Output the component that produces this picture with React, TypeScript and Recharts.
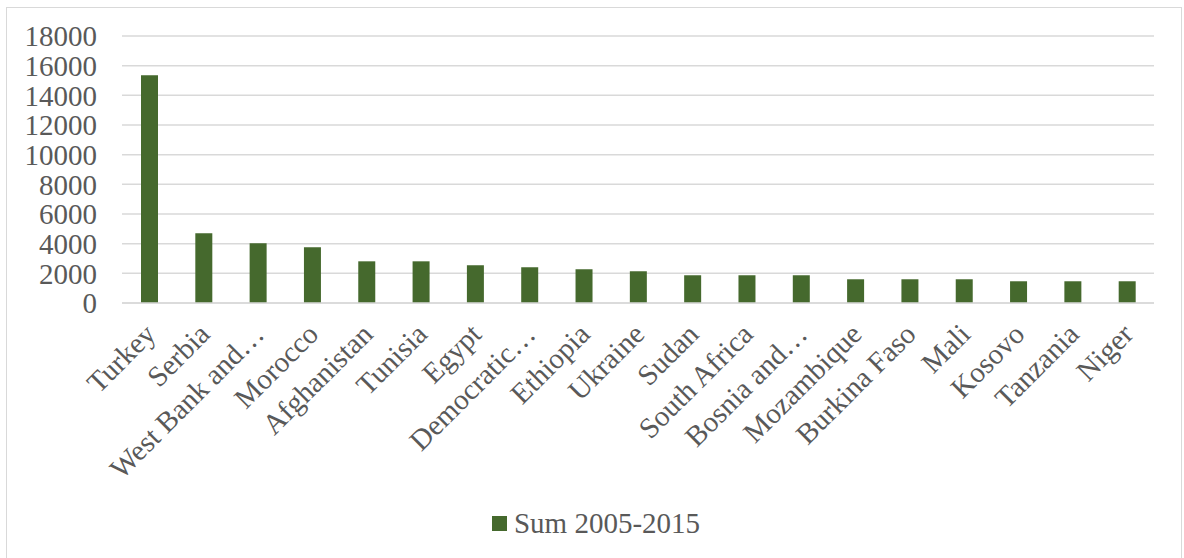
import React from "react";
import { BarChart, Bar, XAxis, YAxis, CartesianGrid, Legend } from "recharts";

const countries = [
  "Turkey",
  "Serbia",
  "West Bank and…",
  "Morocco",
  "Afghanistan",
  "Tunisia",
  "Egypt",
  "Democratic…",
  "Ethiopia",
  "Ukraine",
  "Sudan",
  "South Africa",
  "Bosnia and…",
  "Mozambique",
  "Burkina Faso",
  "Mali",
  "Kosovo",
  "Tanzania",
  "Niger",
];

const sum20052015 = [
  15350, 4700, 4030, 3760, 2810, 2810, 2545, 2410, 2275, 2140, 1870, 1870,
  1870, 1600, 1600, 1600, 1465, 1465, 1465,
];

const yTicks = [0, 2000, 4000, 6000, 8000, 10000, 12000, 14000, 16000, 18000];

const data = countries.map((name, i) => ({ name, value: sum20052015[i] }));

const FONT = "Liberation Serif, DejaVu Serif, serif";
const TEXT = "#595959";
const GREEN = "#45692d";
const SIZE = 29;

function CountryTick(props: any) {
  const { x, y, payload } = props;
  const ax = x + 8;
  const ay = y + 31;
  return (
    <text
      x={ax}
      y={ay}
      transform={`rotate(-45 ${ax} ${ay})`}
      textAnchor="end"
      fill={TEXT}
      style={{ fontSize: SIZE, fontFamily: FONT }}
    >
      {payload.value}
    </text>
  );
}

function LegendContent() {
  return (
    <div
      style={{
        display: "flex",
        alignItems: "center",
        justifyContent: "center",
        fontFamily: FONT,
        fontSize: SIZE,
        color: TEXT,
        marginLeft: 16,
      }}
    >
      <span
        style={{
          display: "inline-block",
          width: 15,
          height: 15,
          background: GREEN,
          marginRight: 7,
        }}
      />
      <span>Sum 2005-2015</span>
    </div>
  );
}

export default function App() {
  return (
    <div
      style={{
        position: "absolute",
        left: 0,
        top: 0,
        width: 1184,
        height: 558,
        background: "#fff",
        overflow: "hidden",
        fontFamily: FONT,
      }}
    >
      <div
        style={{
          position: "absolute",
          left: 6,
          top: 7,
          width: 1176,
          height: 600,
          border: "1.5px solid #d9d9d9",
          boxSizing: "border-box",
        }}
      />
      <div style={{ position: "absolute", left: 0, top: 0 }}>
        <BarChart
          width={1184}
          height={558}
          data={data}
          margin={{ top: 36, right: 30, left: 22, bottom: 0 }}
          barSize={17}
        >
          <CartesianGrid vertical={false} stroke="#d9d9d9" strokeWidth={1.5} />
          <XAxis
            dataKey="name"
            interval={0}
            tick={<CountryTick />}
            tickLine={false}
            tickSize={0}
            axisLine={{ stroke: "#d9d9d9", strokeWidth: 1.5 }}
            height={222}
          />
          <YAxis
            domain={[0, 18000]}
            ticks={yTicks}
            interval={0}
            width={100}
            tickLine={false}
            tickSize={0}
            tickMargin={25}
            axisLine={false}
            tick={{ fill: TEXT, fontSize: SIZE, fontFamily: FONT }}
          />
          <Legend
            content={<LegendContent />}
            verticalAlign="bottom"
            wrapperStyle={{ bottom: 18 }}
          />
          <Bar dataKey="value" fill={GREEN} isAnimationActive={false} />
        </BarChart>
      </div>
    </div>
  );
}
